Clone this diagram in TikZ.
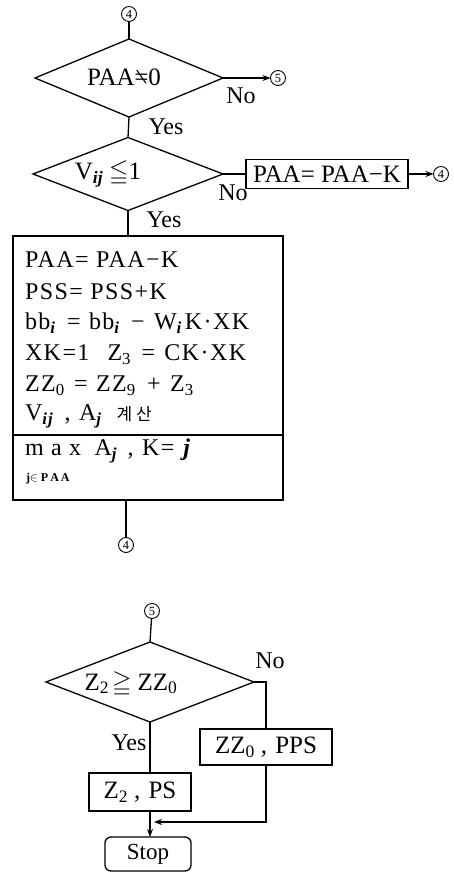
\documentclass[tikz,border=0pt]{standalone}
\usepackage{amssymb}
\usepackage{graphicx}
\usepackage{fontspec}
\setmainfont{Liberation Serif}
\newfontfamily\krfont{Noto Sans CJK KR}
\newfontfamily\wideserif[LetterSpace=6]{Liberation Serif}
\usetikzlibrary{shapes.geometric,arrows.meta}

\newcommand{\sbi}[1]{\textsubscript{\textbf{\textit{#1}}}}
\newcommand{\sbn}[1]{\textsubscript{#1}}

\begin{document}
\begin{tikzpicture}[x=1pt,y=-1pt,line width=1.3pt,
  every node/.style={inner sep=0pt,outer sep=0pt},
  decision/.style={diamond,draw,aspect=2.4},
  dtext/.style={font=\fontsize{25}{28}\selectfont},
  procbox/.style={rectangle,draw,font=\fontsize{25}{28}\selectfont},
  endbox/.style={rectangle,draw,rounded corners=6pt,font=\fontsize{23}{25}\selectfont},
  conn/.style={circle,draw,line width=0.9pt,minimum size=15pt,font=\fontsize{12.5}{13}\selectfont},
  lbl/.style={font=\fontsize{24}{26}\selectfont},
  arr/.style={-{Stealth[length=8pt,width=6pt]}},
  txt/.style={anchor=west,font=\wideserif\fontsize{24}{26}\selectfont}]

\useasboundingbox (0,0) rectangle (454,874);

% ---- first loop: PAA test ----
\node[conn] (c4a) at (129,14) {4};
\node[decision,minimum width=188pt,minimum height=78pt] (d1) at (129,78) {};
\node[dtext] (d1t) at (124,77) {PAA\reflectbox{≠}0};
\node[conn] (c5a) at (278,78) {5};
\draw (c4a) -- (d1.north);
\draw[arr] (d1.east) -- (c5a.west);
\node[lbl] (no1) at (241,96) {No};
\node[lbl] (yes1) at (166,127) {Yes};

% ---- V_ij test ----
\node[decision,minimum width=190pt,minimum height=73pt] (d2) at (128,174) {};
\node[dtext] (d2t) at (108,174) {V\sbi{ij}\hspace{6pt}$\leqq$1};
\draw (d1.south) -- (d2.north);
\node[procbox,minimum width=162pt,minimum height=29pt] (b1) at (327,174) {PAA= PAA−K};
\node[conn] (c4b) at (441,174) {4};
\draw (d2.east) -- (b1.west);
\draw[arr] (b1.east) -- (c4b.west);
\node[lbl] (no2) at (233,193) {No};
\node[lbl] (yes2) at (164,220) {Yes};

% ---- update block ----
\node[draw,minimum width=270pt,minimum height=264pt] (proc) at (148,368) {};
\draw (d2.south) -- (d2.south |- proc.north);
\node[txt] (t1) at (25,260) {PAA= PAA−K};
\node[txt] (t2) at (25,292) {PSS= PSS+K};
\node[txt] (t3) at (25,323) {bb\sbi{i}\hspace{3pt} = \hspace{1pt}bb\sbi{i}\hspace{3pt} − \hspace{2pt}W\sbi{i}\hspace{2pt}K·XK};
\node[txt] (t4) at (25,355) {XK=1\hspace{18pt}Z\sbn{3}\hspace{3pt} = \hspace{2pt}CK·XK};
\node[txt] (t5) at (25,386) {ZZ\sbn{0}\hspace{2pt} = \hspace{1pt}ZZ\sbn{9}\hspace{4pt} + \hspace{2pt}Z\sbn{3}};
\node[txt] (t6) at (25,416) {V\sbi{ij}\hspace{3pt} , \hspace{1pt}A\sbi{j}\hspace{14pt}{\krfont\fontsize{17}{19}\selectfont 계 산}};
\coordinate (dv) at (0,435);
\draw (proc.west |- dv) -- (proc.east |- dv);
\node[txt] (t7) at (25,451) {m a x\hspace{6pt} A\sbi{j}\hspace{2pt} , \hspace{1pt}K= \textbf{\textit{j}}};
\node[anchor=west,font=\bfseries\fontsize{12}{14}\selectfont] (t8) at (26,479) {j$\in$ P\,A\,A};
\node[conn] (c4c) at (126,545) {4};
\draw (c4c.north |- proc.south) -- (c4c.north);

% ---- final comparison ----
\node[conn] (c5b) at (152,611) {5};
\node[decision,minimum width=208pt,minimum height=80pt] (d3) at (150,682) {};
\node[dtext] (d3t) at (131,684) {Z\sbn{2}\hspace{3pt}$\geqq$\hspace{6pt}ZZ\sbn{0}};
\draw (c5b) -- (d3.north);
\node[lbl] (no3) at (270,661) {No};
\node[lbl] (yes3) at (129,743) {Yes};
\node[procbox,minimum width=132pt,minimum height=36pt] (zz) at (266,747) {ZZ\sbn{0}\hspace{6pt}, \hspace{2pt}PPS};
\node[procbox,minimum width=102pt,minimum height=38pt] (zp) at (140,792) {Z\sbn{2}\hspace{6pt}, \hspace{2pt}PS};
\node[endbox,minimum width=86pt,minimum height=34pt] (stop) at (148,854) {Stop};
\coordinate (m) at (154,822);
\draw (d3.east) -| (zz.north);
\draw (d3.south) -- (d3.south |- zp.north);
\draw[arr] (d3.south |- zp.south) -- (d3.south |- stop.north);
\draw[arr] (zz.south) |- (m);
\end{tikzpicture}
\end{document}
